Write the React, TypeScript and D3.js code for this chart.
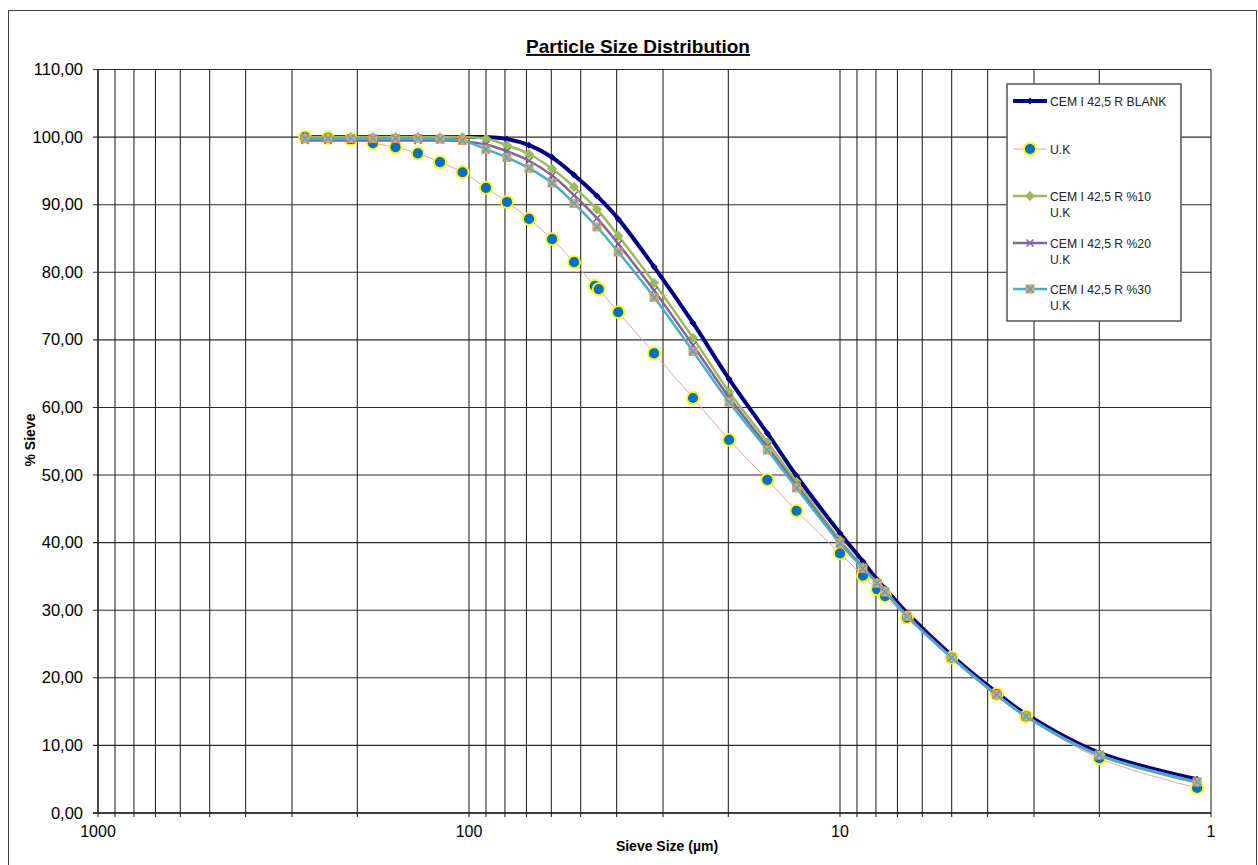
import React from "react";
import * as d3 from "d3";

// sieve sizes (µm)
const sizesCem = [276.7, 239.9, 208, 181.5, 157.8, 137.3, 119.7, 104.1, 90, 79, 68.9, 59.7, 52.1, 45.2, 39.6, 31.7, 24.9, 19.9, 15.7, 13.1, 10, 8.67, 7.94, 7.56, 6.6, 5.0, 3.78, 3.15, 2.0, 1.09];
const sizesUk = [276.7, 239.9, 208, 181.5, 157.8, 137.3, 119.7, 104.1, 90, 79, 68.9, 59.7, 52.1, 45.8, 44.7, 39.6, 31.7, 24.9, 19.9, 15.7, 13.1, 10, 8.67, 7.94, 7.56, 6.6, 5.0, 3.78, 3.15, 2.0, 1.09];

const blank = [100, 100, 100, 100, 100, 100, 100, 100, 100, 99.7, 98.8, 97.0, 94.4, 91.3, 87.9, 80.8, 72.5, 64.2, 56.2, 49.9, 41.4, 37.2, 34.5, 33.2, 29.6, 23.3, 17.8, 14.6, 8.9, 5.0];
const uk = [100, 99.9, 99.7, 99.1, 98.5, 97.6, 96.3, 94.8, 92.5, 90.4, 87.9, 84.9, 81.5, 78.0, 77.5, 74.1, 68.0, 61.4, 55.2, 49.3, 44.7, 38.4, 35.1, 33.1, 32.1, 28.9, 23.0, 17.6, 14.3, 8.1, 3.7];
const uk10 = [100, 100, 100, 100, 100, 100, 100, 100, 99.8, 98.8, 97.5, 95.3, 92.6, 89.3, 85.4, 78.4, 70.3, 62.3, 54.9, 49.0, 40.4, 36.4, 34.1, 32.9, 29.2, 23.0, 17.4, 14.3, 8.5, 4.5];
const uk20 = [99.5, 99.5, 99.5, 99.5, 99.5, 99.5, 99.5, 99.4, 98.9, 97.9, 96.5, 94.3, 91.4, 88.0, 84.2, 77.3, 69.2, 61.5, 54.2, 48.5, 40.1, 36.3, 34.0, 32.8, 29.2, 23.0, 17.5, 14.3, 8.6, 4.6];
const uk30 = [99.8, 99.8, 99.8, 99.8, 99.8, 99.8, 99.7, 99.5, 98.2, 97.0, 95.4, 93.2, 90.2, 86.7, 83.0, 76.3, 68.3, 60.8, 53.7, 48.1, 39.9, 36.2, 34.0, 32.7, 29.1, 23.0, 17.5, 14.3, 8.6, 4.6];

const yTicks = d3.range(0, 111, 10);
const xLabels = [1000, 100, 10, 1];
const legendNames = [["CEM I 42,5 R BLANK"], ["U.K"], ["CEM I 42,5 R %10", "U.K"], ["CEM I 42,5 R %20", "U.K"], ["CEM I 42,5 R %30", "U.K"]];

const font = "'Liberation Sans', Arial, sans-serif";

function Marker({ kind, x, y }: { kind: string; x: number; y: number }) {
  if (kind === "blank")
    return <path d={`M${x},${y - 3.5}L${x + 3.5},${y}L${x},${y + 3.5}L${x - 3.5},${y}Z`} fill="#000080" />;
  if (kind === "uk")
    return <circle cx={x} cy={y} r={6} fill="#0070c0" stroke="#ffff00" strokeWidth={1.8} />;
  if (kind === "uk10")
    return <path d={`M${x},${y - 5}L${x + 5},${y}L${x},${y + 5}L${x - 5},${y}Z`} fill="#9bbb59" />;
  if (kind === "uk20")
    return <path d={`M${x - 3.5},${y - 3.5}L${x + 3.5},${y + 3.5}M${x + 3.5},${y - 3.5}L${x - 3.5},${y + 3.5}`} stroke="#8064a2" strokeWidth={1.6} />;
  return (
    <g>
      <rect x={x - 4} y={y - 4} width={8} height={8} fill="#e9a878" stroke="#f79646" strokeWidth={1} />
      <path d={`M${x - 3.5},${y - 3.5}L${x + 3.5},${y + 3.5}M${x + 3.5},${y - 3.5}L${x - 3.5},${y + 3.5}`} stroke="#4bacc6" strokeWidth={1.8} />
    </g>
  );
}

export default function App() {
  const W = 1258, H = 865;
  const x = d3.scaleLog().domain([1000, 1]).range([98, 1211]);
  const y = d3.scaleLinear().domain([0, 110]).range([813, 69.5]);

  const gridX: number[] = [];
  for (let dec = 1; dec <= 100; dec *= 10) for (let m = 1; m <= 9; m++) gridX.push(m * dec);
  gridX.push(1000);

  const line = d3.line<[number, number]>()
    .x(d => x(d[0]))
    .y(d => y(d[1]))
    .curve(d3.curveCatmullRom.alpha(0.5));

  const series = [
    { kind: "blank", sizes: sizesCem, vals: blank, color: "#000080", width: 4 },
    { kind: "uk", sizes: sizesUk, vals: uk, color: "#f2a0a0", width: 1 },
    { kind: "uk10", sizes: sizesCem, vals: uk10, color: "#9bbb59", width: 2.5 },
    { kind: "uk20", sizes: sizesCem, vals: uk20, color: "#8064a2", width: 2.5 },
    { kind: "uk30", sizes: sizesCem, vals: uk30, color: "#4bacc6", width: 2.5 },
  ];

  const legY = [101, 149, 196, 243, 289];

  return (
    <svg width={W} height={H} style={{ position: "absolute", left: 0, top: 0, background: "#fff" }} fontFamily={font}>
      <rect x={8.5} y={10.5} width={1248} height={900} fill="#fff" stroke="#404040" strokeWidth={1} />
      <text x={638} y={53} textAnchor="middle" fontSize={19} fontWeight="bold" textDecoration="underline">Particle Size Distribution</text>

      {/* grid */}
      {yTicks.map(t => (
        <g key={"y" + t}>
          <line x1={93} x2={1211} y1={y(t)} y2={y(t)} stroke="#2a2a2a" strokeWidth={1.1} />
          <text x={83} y={y(t) + 5.5} textAnchor="end" fontSize={16.5}>{d3.format(".2f")(t).replace(".", ",")}</text>
        </g>
      ))}
      {gridX.map(v => (
        <line key={"x" + v} x1={x(v)} x2={x(v)} y1={y(110)} y2={y(0) + 4} stroke="#2a2a2a" strokeWidth={1.1} />
      ))}
      <line x1={98} x2={98} y1={y(110)} y2={y(0)} stroke="#222" strokeWidth={1.3} />
      <line x1={93} x2={1211} y1={y(0)} y2={y(0)} stroke="#222" strokeWidth={1.3} />
      {xLabels.map(v => (
        <text key={"xl" + v} x={x(v)} y={837} textAnchor="middle" fontSize={16}>{v}</text>
      ))}

      {/* series */}
      {series.map(s => {
        const pts = s.sizes.map((d, i) => [d, s.vals[i]] as [number, number]);
        return (
          <g key={s.kind}>
            <path d={line(pts) || ""} fill="none" stroke={s.color} strokeWidth={s.width} />
            {pts.map((p, i) => <Marker key={i} kind={s.kind} x={x(p[0])} y={y(p[1])} />)}
          </g>
        );
      })}

      {/* legend */}
      <rect x={1007} y={84} width={174} height={237} fill="#fff" stroke="#555" strokeWidth={1.5} />
      {series.map((s, i) => (
        <g key={"lg" + i}>
          <line x1={1013} x2={1047} y1={legY[i]} y2={legY[i]} stroke={s.color} strokeWidth={s.width} />
          <Marker kind={s.kind} x={1030} y={legY[i]} />
          {legendNames[i].map((t, j) => (
            <text key={j} x={1050} y={legY[i] + 4.5 + j * 16} fontSize={12.2} fill="#222">{t}</text>
          ))}
        </g>
      ))}

      <text transform="translate(35,440) rotate(-90)" textAnchor="middle" fontSize={14} fontWeight="bold">% Sieve</text>
      <text x={667} y={851} textAnchor="middle" fontSize={14} fontWeight="bold">Sieve Size (µm)</text>
    </svg>
  );
}
